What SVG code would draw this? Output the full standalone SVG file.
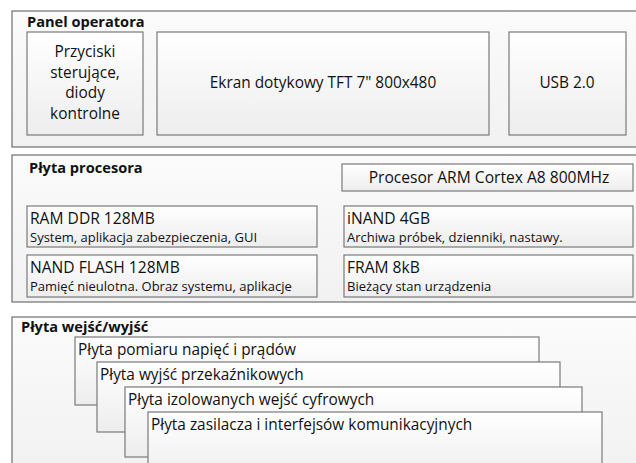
<svg xmlns="http://www.w3.org/2000/svg" width="636" height="463" viewBox="0 0 636 463">
<defs>
<linearGradient id="gIn" x1="0" y1="0" x2="0" y2="1"><stop offset="0" stop-color="#ffffff"/><stop offset="1" stop-color="#ededed"/></linearGradient>
<linearGradient id="gOut" x1="0" y1="0" x2="0" y2="1"><stop offset="0" stop-color="#fbfbfb"/><stop offset="1" stop-color="#f1f1f1"/></linearGradient>
<style>
.outer{fill:url(#gOut);stroke:#6e6e6e;stroke-width:1.2}
.box{fill:url(#gIn);stroke:#7a7a7a;stroke-width:1.2}
text{font-family:"Open Sans","Noto Sans","DejaVu Sans",sans-serif;fill:#111}
.title{font-weight:bold;font-size:14.6px}
.main{font-size:15.4px}
.big{font-size:15.6px}
.sub{font-size:13px}
.c{text-anchor:middle}
</style>
</defs>
<rect width="636" height="463" fill="#ffffff"/>
<g id="panel-operatora">
<rect class="outer" x="12" y="11" width="630" height="136"/>
<text class="title" x="27" y="27">Panel operatora</text>
</g>
<g id="przyciski">
<rect class="box" x="27" y="32" width="116" height="103"/>
<text class="main c" x="85" y="57">Przyciski</text>
<text class="main c" x="85" y="78">sterujące,</text>
<text class="main c" x="85" y="98">diody</text>
<text class="main c" x="85" y="119">kontrolne</text>
</g>
<g id="ekran">
<rect class="box" x="157" y="32" width="332" height="103"/>
<text class="main c" x="323" y="88">Ekran dotykowy TFT 7" 800x480</text>
</g>
<g id="usb">
<rect class="box" x="509" y="32" width="117" height="103"/>
<text class="main c" x="567" y="88">USB 2.0</text>
</g>
<g id="plyta-procesora">
<rect class="outer" x="12" y="155" width="630" height="147"/>
<text class="title" x="29" y="173">Płyta procesora</text>
</g>
<g id="procesor">
<rect class="box" x="342" y="164" width="291" height="27"/>
<text class="big c" x="489" y="183">Procesor ARM Cortex A8 800MHz</text>
</g>
<g id="ram">
<rect class="box" x="27" y="206" width="290" height="41"/>
<text class="big" x="30" y="224">RAM DDR 128MB</text>
<text class="sub" x="30" y="242">System, aplikacja zabezpieczenia, GUI</text>
</g>
<g id="nand">
<rect class="box" x="27" y="255" width="290" height="42"/>
<text class="big" x="30" y="273">NAND FLASH 128MB</text>
<text class="sub" x="30" y="291">Pamięć nieulotna. Obraz systemu, aplikacje</text>
</g>
<g id="inand">
<rect class="box" x="344" y="206" width="289" height="41"/>
<text class="big" x="347" y="224">iNAND 4GB</text>
<text class="sub" x="347" y="242">Archiwa próbek, dzienniki, nastawy.</text>
</g>
<g id="fram">
<rect class="box" x="344" y="255" width="289" height="42"/>
<text class="big" x="347" y="273">FRAM 8kB</text>
<text class="sub" x="347" y="291">Bieżący stan urządzenia</text>
</g>
<g id="plyta-we-wy">
<rect class="outer" x="12" y="317" width="630" height="160"/>
<text class="title" x="21" y="332">Płyta wejść/wyjść</text>
</g>
<g id="pomiar">
<rect class="box" x="75" y="337" width="464" height="68"/>
<text class="main" x="78" y="355">Płyta pomiaru napięć i prądów</text>
</g>
<g id="przekazniki">
<rect class="box" x="97" y="362" width="463" height="70"/>
<text class="main" x="100" y="380">Płyta wyjść przekaźnikowych</text>
</g>
<g id="wejscia">
<rect class="box" x="125" y="387" width="457" height="70"/>
<text class="main" x="128" y="405">Płyta izolowanych wejść cyfrowych</text>
</g>
<g id="zasilacz">
<rect class="box" x="148" y="412" width="454" height="70"/>
<text class="main" x="151" y="430">Płyta zasilacza i interfejsów komunikacyjnych</text>
</g>
<g id="connectors"/>
</svg>
